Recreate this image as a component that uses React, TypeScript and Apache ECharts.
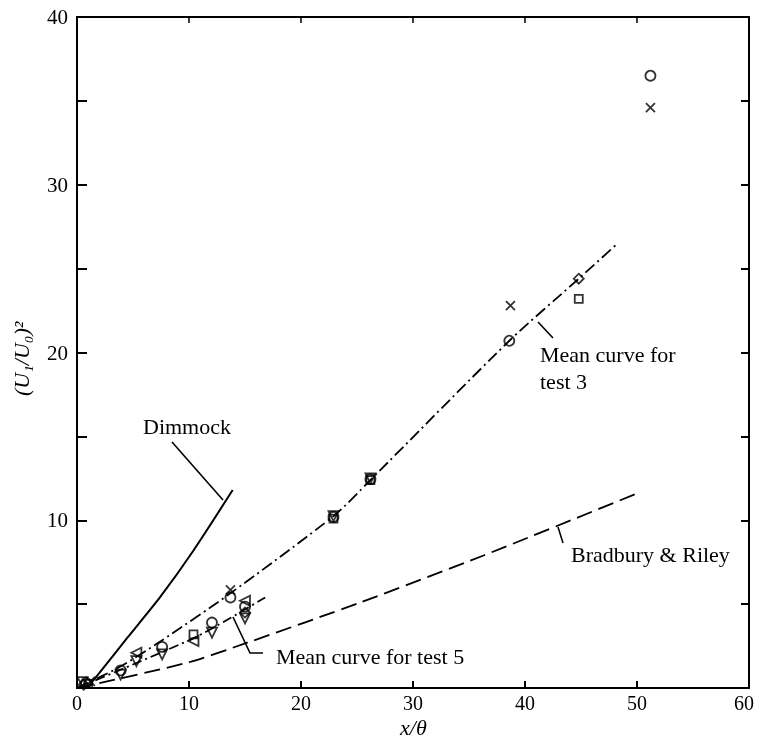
import React, { useEffect, useRef } from "react";
import * as echarts from "echarts";

// ---- curves ----
const dimmockX = [0.9, 2, 4.5, 7.4, 10.4, 13.9];
const dimmockY = [0, 0.9, 3.0, 5.4, 8.2, 11.8];

const test3X = [0, 3.8, 7.5, 13.6, 23, 26.2, 38.6, 44.8, 48.1];
const test3Y = [0, 1.25, 2.8, 5.6, 10.3, 12.4, 20.7, 24.4, 26.4];

const test5X = [0, 5, 10.5, 13.5, 16.8];
const test5Y = [0, 1.4, 3.0, 4.1, 5.4];

const bradburyX = [0, 9.8, 15.2, 25.3, 36.3, 50];
const bradburyY = [0, 1.5, 2.7, 5.1, 7.9, 11.6];

// ---- measured points ----
const circlePts = [
  [0.8, 0.3], [3.9, 1.05], [7.6, 2.45], [12.05, 3.9], [13.7, 5.4], [15, 4.85],
  [22.9, 10.2], [26.2, 12.45], [38.6, 20.7], [51.2, 36.5],
];
const crossPts = [[1.2, 0.4], [13.7, 5.85], [38.7, 22.8], [51.2, 34.6]];
const squarePts = [[1.0, 0.25], [10.4, 3.2], [22.9, 10.1], [26.2, 12.4], [44.8, 23.2]];
const diamondPts = [[0.6, 0.2], [15, 4.5], [44.8, 24.4]];
const downTriPts = [[0.5, 0.35], [3.9, 0.8], [5.3, 1.6], [7.6, 2.0], [12.05, 3.3], [15, 4.15], [22.9, 10.25], [26.2, 12.5]];
const leftTriPts = [[5.3, 2.1], [10.4, 2.8], [15, 5.2]];

const xTicks = [0, 10, 20, 30, 40, 50, 60];
const yLabelled = [10, 20, 30, 40];

const FONT = "Liberation Serif";
const zip = (xs: number[], ys: number[]) => xs.map((x, i) => [x, ys[i]]);

export default function App() {
  const ref = useRef<HTMLDivElement>(null);
  useEffect(() => {
    if (!ref.current) return;
    const chart = echarts.init(ref.current, undefined, { renderer: "svg" });
    const mk = (data: number[][], symbol: string, size: number, rotate = 0) => ({
      type: "scatter",
      data,
      symbol,
      symbolSize: size,
      symbolRotate: rotate,
      itemStyle: { color: "rgba(0,0,0,0)", borderColor: "#000", borderWidth: 1.8 },
      z: 5,
    });
    const ln = (xs: number[], ys: number[], type: any, width = 1.8) => ({
      type: "line",
      data: zip(xs, ys),
      smooth: 0.25,
      symbol: "none",
      showSymbol: false,
      lineStyle: { color: "#000", width, type },
      z: 3,
    });
    const textStyle = { fill: "#000", font: `22px "${FONT}"` };
    const axisCommon = {
      axisLine: { onZero: false, lineStyle: { color: "#000", width: 2 } },
      splitLine: { show: false },
    };
    const xMax = xTicks[xTicks.length - 1];
    chart.setOption({
      animation: false,
      grid: { left: 77, right: 8, top: 17, bottom: 51, show: false, containLabel: false, outerBoundsMode: "none" },
      xAxis: [
        {
          type: "value", min: 0, max: xMax, interval: 10, ...axisCommon,
          axisTick: { inside: true, length: 7, lineStyle: { color: "#000", width: 2 } },
          axisLabel: {
            color: "#000", fontFamily: FONT, fontSize: 20, margin: 5,
            formatter: (v: number) =>
              v === xMax ? `{e|${v}}` : xTicks.includes(v) ? String(v) : "",
            rich: { e: { color: "#000", fontFamily: FONT, fontSize: 20, padding: [0, 10, 0, 0] } },
          },
        },
        {
          type: "value", position: "top", min: 0, max: xMax, interval: 10, ...axisCommon,
          axisTick: { inside: true, length: 6, lineStyle: { color: "#000", width: 1.5 } },
          axisLabel: { show: false },
        },
      ],
      yAxis: [
        {
          type: "value", min: 0, max: 40, interval: 5, ...axisCommon,
          axisTick: { inside: true, length: 10, lineStyle: { color: "#000", width: 2 } },
          axisLabel: {
            color: "#000", fontFamily: FONT, fontSize: 21, margin: 9,
            formatter: (v: number) => (yLabelled.includes(v) ? String(v) : ""),
          },
        },
        {
          type: "value", position: "right", min: 0, max: 40, interval: 5, ...axisCommon,
          axisTick: { inside: true, length: 8, lineStyle: { color: "#000", width: 2 } },
          axisLabel: { show: false },
        },
      ],
      series: [
        ln(dimmockX, dimmockY, "solid", 2),
        ln(test3X, test3Y, [12, 4, 2, 4]),
        ln(test5X, test5Y, [10, 4, 2, 4]),
        ln(bradburyX, bradburyY, [16, 7]),
        mk(circlePts, "circle", 10),
        mk(crossPts, "path://M0,0L10,10M10,0L0,10", 9),
        mk(squarePts, "rect", 8),
        mk(diamondPts, "diamond", 10),
        mk(downTriPts, "triangle", 10, 180),
        mk(leftTriPts, "triangle", 10, 90),
      ],
      graphic: [
        { type: "text", left: 143, top: 415, style: { ...textStyle, text: "Dimmock" } },
        { type: "line", shape: { x1: 172, y1: 442, x2: 223, y2: 500 }, style: { stroke: "#000", lineWidth: 1.6 } },
        { type: "text", left: 540, top: 343, style: { ...textStyle, text: "Mean curve for" } },
        { type: "text", left: 540, top: 370, style: { ...textStyle, text: "test 3" } },
        { type: "line", shape: { x1: 538, y1: 322, x2: 553, y2: 338 }, style: { stroke: "#000", lineWidth: 1.6 } },
        { type: "text", left: 276, top: 645, style: { ...textStyle, text: "Mean curve for test 5" } },
        { type: "polyline", shape: { points: [[233, 617], [250, 653], [263, 653]] }, style: { stroke: "#000", fill: null, lineWidth: 1.6 } },
        { type: "text", left: 571, top: 543, style: { ...textStyle, text: "Bradbury & Riley" } },
        { type: "line", shape: { x1: 558, y1: 527, x2: 563, y2: 543 }, style: { stroke: "#000", lineWidth: 1.6 } },
        { type: "text", x: 400, y: 716, style: { fill: "#000", font: `italic 22px "${FONT}"`, text: "x/θ" } },
        {
          type: "text", x: 10, y: 396, rotation: Math.PI / 2,
          style: { fill: "#000", font: `italic 22px "${FONT}"`, text: "(U₁/U₀)²" },
        },
      ],
    });
    return () => chart.dispose();
  }, []);
  return <div ref={ref} style={{ position: "fixed", left: 0, top: 0, width: 757, height: 739 }} />;
}
